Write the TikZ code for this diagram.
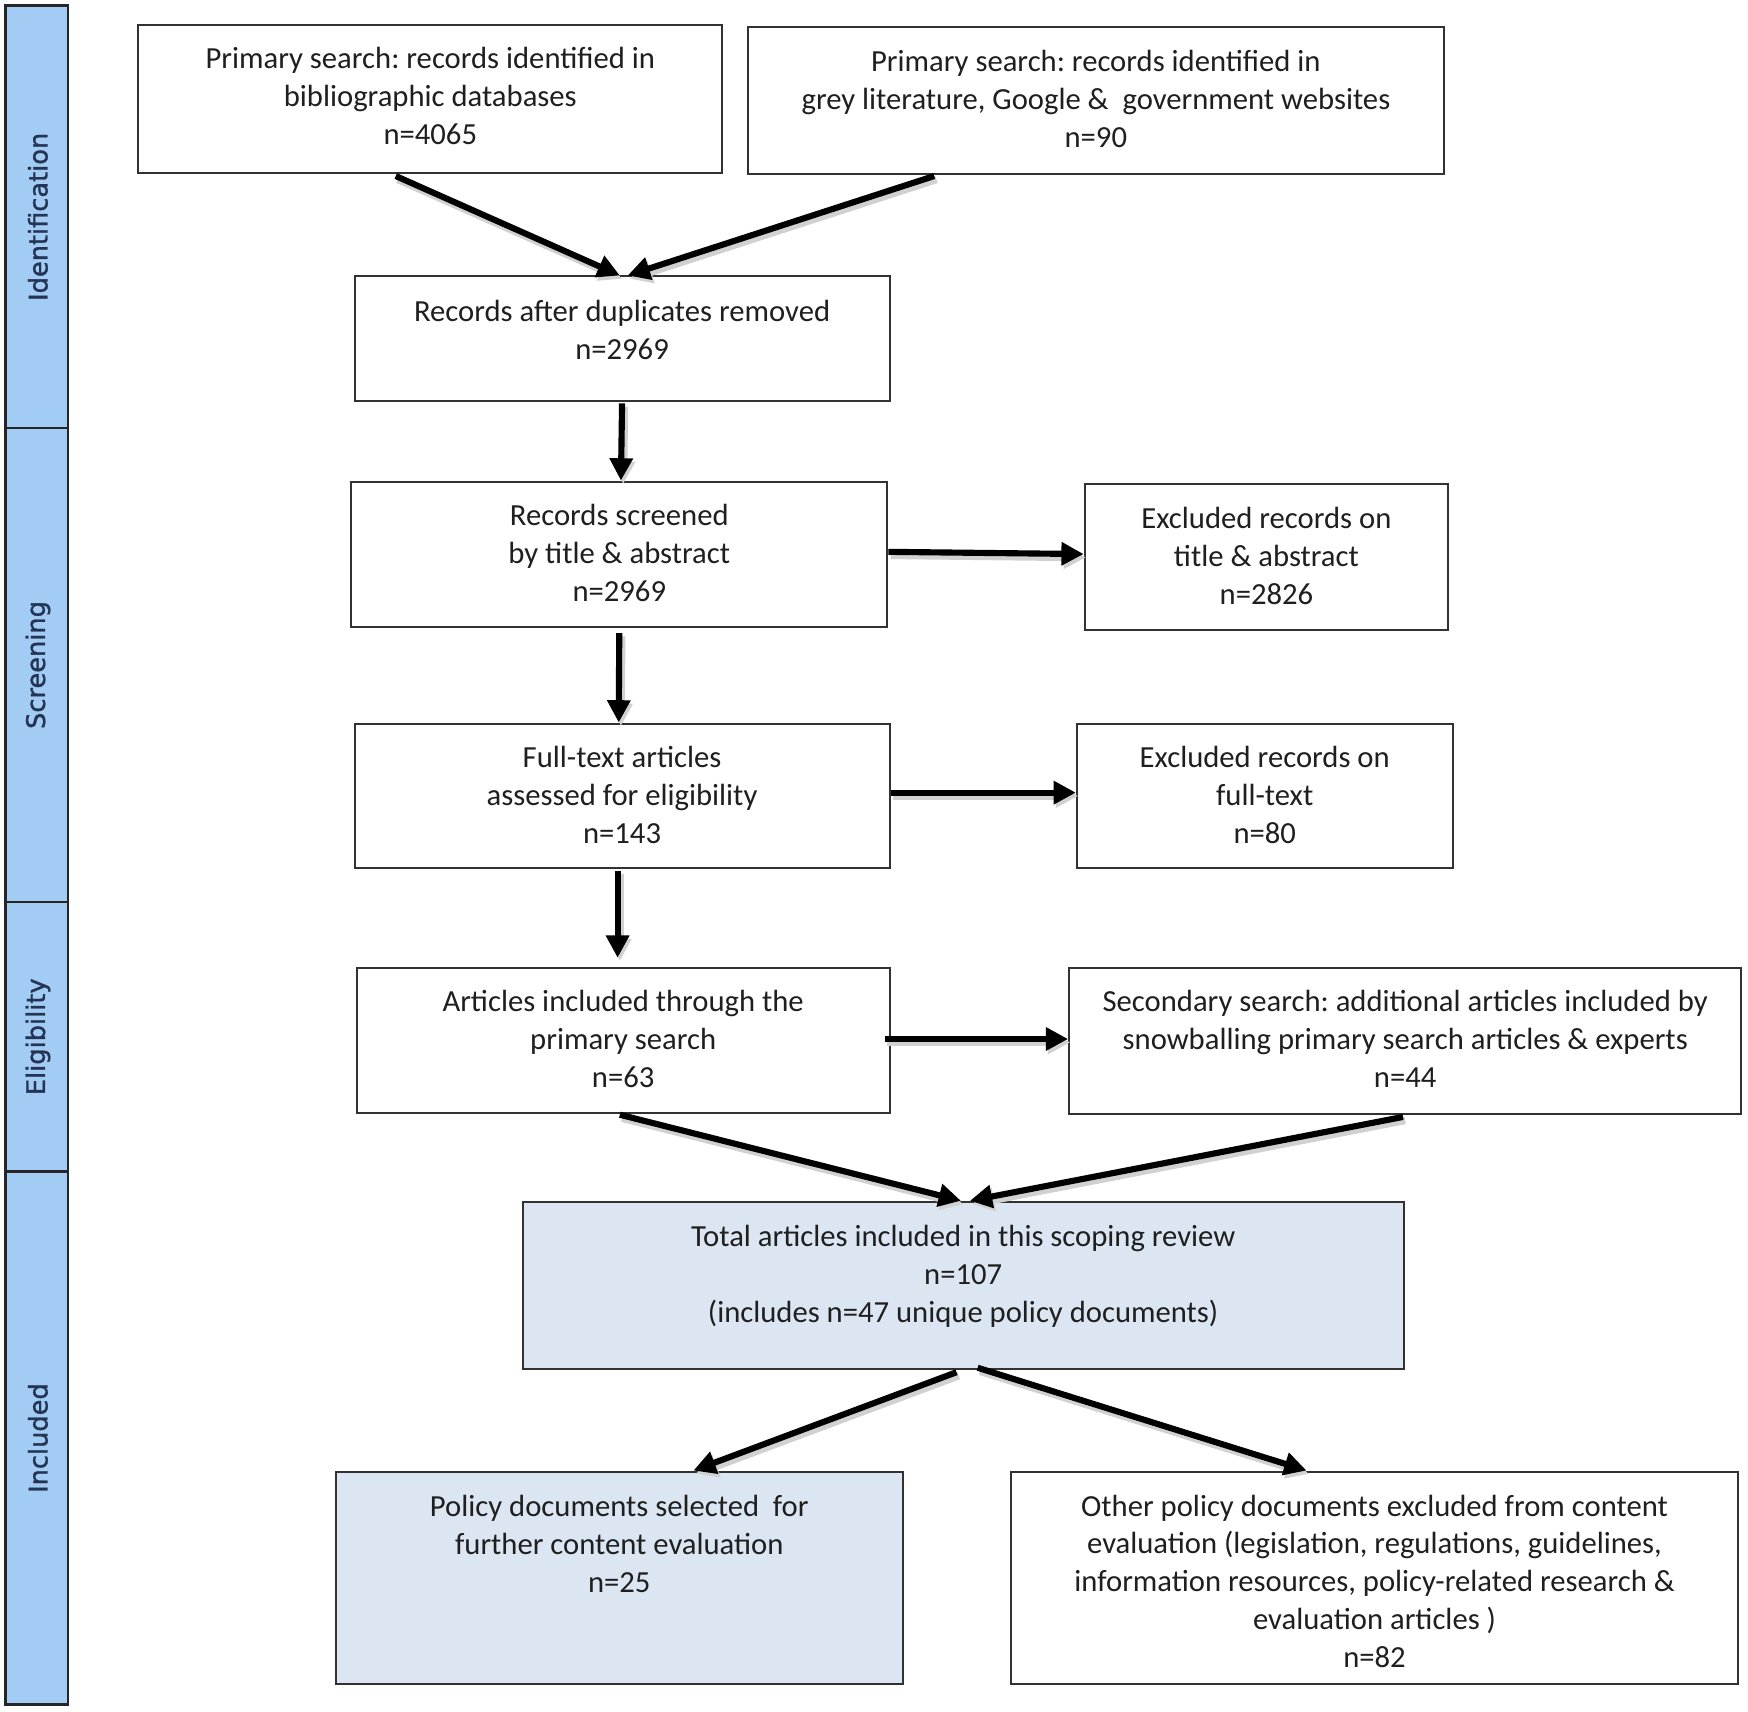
\documentclass[tikz,border=0pt]{standalone}
\usepackage{fontspec}
\setmainfont{Carlito}
\newfontfamily\sidefont[FakeBold=1.2]{DejaVu Sans}
\usetikzlibrary{arrows.meta}
\definecolor{bandblue}{RGB}{162,204,243}
\definecolor{boxblue}{RGB}{220,230,243}
\definecolor{bandtext}{RGB}{36,52,84}
\definecolor{boxline}{RGB}{50,50,50}
\frenchspacing
\begin{document}
\begin{tikzpicture}[x=1pt,y=-1pt,
  box/.style={draw=boxline, line width=1.8pt, inner sep=0pt, fill=white},
  bluebox/.style={box, fill=boxblue},
  txt/.style={align=center, inner sep=0pt, text=black!88, font=\fontsize{27.5}{34}\selectfont, execute at begin node=\strut, execute at end node=\strut},
  band/.style={draw=black!85, line width=2.2pt, fill=bandblue, inner sep=0pt},
  bandlabel/.style={rotate=90, inner sep=0pt, text=bandtext, font=\sidefont\fontsize{23}{27}\selectfont},
  arr/.style={line width=5.5pt, draw=black, -{Triangle[length=20pt,width=20pt]},
    preaction={draw=black!18, line width=7pt, transform canvas={shift={(2,3)}}}},
]
\useasboundingbox (0,0) rectangle (1568,1535);

% side bands
\node[band, minimum width=56, minimum height=379] (bandI) at (33,194.5) {};
\node[band, minimum width=56, minimum height=425] (bandS) at (33,596.5) {};
\node[band, minimum width=56, minimum height=242] (bandE) at (33,930) {};
\node[band, minimum width=56, minimum height=478] (bandN) at (33,1290) {};
\node[bandlabel] (labI) at ([xshift=1pt]bandI.center) {Identification};
\node[bandlabel] (labS) at ([xshift=1pt]bandS.center) {Screening};
\node[bandlabel] (labE) at ([xshift=1pt]bandE.center) {Eligibility};
\node[bandlabel] (labN) at ([xshift=1pt]bandN.center) {Included};

% boxes
\node[box, minimum width=524, minimum height=133] (B1) at (386,88.5) {};
\node[box, minimum width=624, minimum height=132] (B2) at (983,90) {};
\node[box, minimum width=480, minimum height=112] (B3) at (558,304) {};
\node[box, minimum width=481, minimum height=130] (B4) at (555.5,497) {};
\node[box, minimum width=326, minimum height=131] (B5) at (1136,499.5) {};
\node[box, minimum width=480, minimum height=130] (B6) at (558,714) {};
\node[box, minimum width=337, minimum height=130] (B7) at (1134.5,714) {};
\node[box, minimum width=478, minimum height=130] (B8) at (559,933) {};
\node[box, minimum width=603, minimum height=131] (B9) at (1260.5,933.5) {};
\node[bluebox, minimum width=790, minimum height=150] (B10) at (864,1153) {};
\node[bluebox, minimum width=509, minimum height=191] (B11) at (555.5,1415.5) {};
\node[box, minimum width=652, minimum height=191] (B12) at (1233,1415.5) {};

% texts
\node[txt] (T1) at (386,91) {Primary search: records identified in\\bibliographic databases\\n=4065};
\node[txt] (T2) at (983,94) {Primary search: records identified in\\grey literature, Google \&\ \ government websites\\n=90};
\node[txt] (T3) at (558,301) {Records after duplicates removed\\n=2969};
\node[txt] (T4) at (555.5,501) {Records screened\\by title \& abstract\\n=2969};
\node[txt] (T5) at (1136,503.5) {Excluded records on\\title \& abstract\\n=2826};
\node[txt] (T6) at (558,718) {Full-text articles\\assessed for eligibility\\n=143};
\node[txt] (T7) at (1134.5,718) {Excluded records on\\full-text\\n=80};
\node[txt] (T8) at (559,937) {Articles included through the\\primary search\\n=63};
\node[txt] (T9) at (1260.5,937) {Secondary search: additional articles included by\\snowballing primary search articles \& experts\\n=44};
\node[txt] (T10) at (864,1148) {Total articles included in this scoping review\\n=107\\(includes n=47 unique policy documents)};
\node[txt] (T11) at (555.5,1390) {Policy documents selected\ \ for\\further content evaluation\\n=25};
\node[txt] (T12) at (1233,1423.5) {Other policy documents excluded from content\\evaluation (legislation, regulations, guidelines,\\information resources, policy-related research \&\\evaluation articles )\\n=82};

% arrows
\draw[arr] ([xshift=-31pt,yshift=-2pt]B1.south) -- ([xshift=-2pt]B3.north);
\draw[arr] ([xshift=-145pt,yshift=-1pt]B2.south) -- ([xshift=5pt]B3.north);
\draw[arr] ([yshift=-1pt]B3.south) -- ([xshift=1.5pt]B4.north);
\draw[arr] ([yshift=-5pt]B4.south) -- ([xshift=-3pt]B6.north);
\draw[arr] ([xshift=-4pt,yshift=-1pt]B6.south) -- ([xshift=-5pt,yshift=8pt]B8.north);
\draw[arr] ([yshift=2pt]B4.east) -- ([yshift=2.5pt]B5.west);
\draw[arr] ([yshift=3pt]B6.east) -- ([yshift=3pt]B7.west);
\draw[arr] ([xshift=-5pt,yshift=1pt]B8.east) -- ([yshift=1.5pt]B9.west);
\draw[arr] ([xshift=-3pt,yshift=-1pt]B8.south) -- ([xshift=-2pt]B10.north);
\draw[arr] ([xshift=-2pt,yshift=-2pt]B9.south) -- ([xshift=6pt]B10.north);
\draw[arr] ([xshift=-6pt,yshift=-2pt]B10.south) -- ([xshift=66.5pt]B11.north);
\draw[arr] ([xshift=13pt,yshift=2pt]B10.south) -- ([xshift=-61pt]B12.north);
\end{tikzpicture}
\end{document}
